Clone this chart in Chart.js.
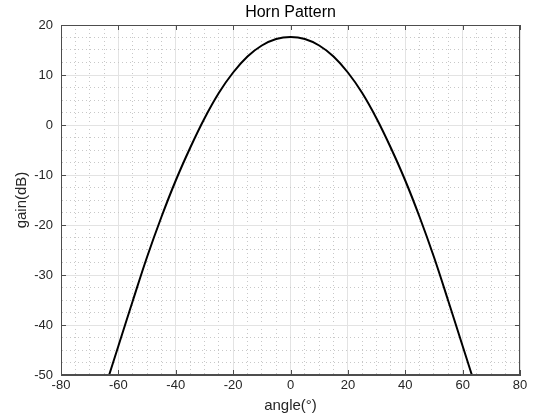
<!DOCTYPE html>
<html>
<head>
<meta charset="utf-8">
<script src="https://cdn.jsdelivr.net/npm/chart.js@4/dist/chart.umd.min.js"></script>
<style>
	html, body { margin: 0; padding: 0; background: #fff; }
	#wrap { width: 537px; height: 419px; }
</style>
</head>
<body>
<div id="wrap"><canvas id="horn"></canvas></div>
<script>
// angle (deg) and gain (dB)
var angles = [-65, -60, -55, -50, -45, -40, -35, -30, -25, -20, -15, -10, -5, 0, 5, 10, 15, 20, 25, 30, 35, 40, 45, 50, 55, 60, 65];
var gains = [-53.2, -44.2, -35.2, -26.4, -18.4, -11.1, -4.6, 1.3, 6.4, 10.5, 13.7, 15.9, 17.2, 17.6, 17.2, 15.9, 13.7, 10.5, 6.4, 1.3, -4.6, -11.1, -18.4, -26.4, -35.2, -44.2, -53.2];
var xMajor = 20;
var yMajor = 10;
var chartTitle = 'Horn Pattern';

var font = 'Liberation Sans, Arial, Helvetica, sans-serif';

var points = angles.map(function (a, i) {
	return { x: a, y: gains[i] };
});

function isMajor(v, step) {
	return Math.abs(v / step - Math.round(v / step)) < 1e-6;
}

// box round the axes, inner major ticks and a title centred on the plot
var boxPlugin = {
	id: 'box',
	afterDraw: function (chart) {
		var a = chart.chartArea;
		var ctx = chart.ctx;
		var xs = chart.scales.x;
		var ys = chart.scales.y;
		ctx.save();
		ctx.strokeStyle = '#4d4d4d';
		ctx.lineWidth = 1;
		ctx.strokeRect(a.left + 0.5, a.top + 0.5, a.right - a.left - 1, a.bottom - a.top - 1);
		ctx.beginPath();
		xs.ticks.forEach(function (t) {
			if (!isMajor(t.value, xMajor)) return;
			var px = Math.round(xs.getPixelForValue(t.value)) + 0.5;
			ctx.moveTo(px, a.bottom);
			ctx.lineTo(px, a.bottom - 5);
			ctx.moveTo(px, a.top);
			ctx.lineTo(px, a.top + 5);
		});
		ys.ticks.forEach(function (t) {
			if (!isMajor(t.value, yMajor)) return;
			var py = Math.round(ys.getPixelForValue(t.value)) + 0.5;
			ctx.moveTo(a.left, py);
			ctx.lineTo(a.left + 5, py);
			ctx.moveTo(a.right, py);
			ctx.lineTo(a.right - 5, py);
		});
		ctx.stroke();
		ctx.fillStyle = '#000';
		ctx.font = '16px ' + font;
		ctx.textAlign = 'center';
		ctx.textBaseline = 'middle';
		ctx.fillText(chartTitle, (a.left + a.right) / 2, 13);
		ctx.restore();
	}
};

new Chart(document.getElementById('horn'), {
	type: 'scatter',
	data: {
		datasets: [{
			data: points,
			showLine: true,
			borderColor: '#000',
			borderWidth: 2,
			pointRadius: 0,
			tension: 0.4,
			fill: false
		}]
	},
	options: {
		responsive: true,
		maintainAspectRatio: false,
		animation: false,
		layout: { padding: { left: 0, right: 17, top: 25, bottom: 0 } },
		plugins: {
			legend: { display: false },
			tooltip: { enabled: false },
			title: { display: false }
		},
		scales: {
			x: {
				type: 'linear',
				min: -80,
				max: 80,
				afterFit: function (s) { s.height = 44; },
				ticks: {
					stepSize: 5,
					autoSkip: false,
					maxRotation: 0,
					color: '#262626',
					font: { family: font, size: 13 },
					padding: 3,
					callback: function (v) { return isMajor(v, xMajor) ? v : ''; }
				},
				grid: {
					drawTicks: false,
					color: function (c) { return isMajor(c.tick.value, xMajor) ? '#e3e3e3' : '#c8c8c8'; },
					lineWidth: 1
				},
				border: {
					color: '#4d4d4d',
					dash: function (c) { return c.tick && !isMajor(c.tick.value, xMajor) ? [1, 3] : []; }
				},
				title: {
					display: true,
					text: 'angle(°)',
					color: '#262626',
					font: { family: font, size: 15 },
					padding: { top: 0, bottom: 4 }
				}
			},
			y: {
				type: 'linear',
				min: -50,
				max: 20,
				afterFit: function (s) { s.width = 61; },
				ticks: {
					stepSize: 2.5,
					autoSkip: false,
					color: '#262626',
					font: { family: font, size: 13 },
					padding: 8,
					callback: function (v) { return isMajor(v, yMajor) ? v : ''; }
				},
				grid: {
					drawTicks: false,
					color: function (c) { return isMajor(c.tick.value, yMajor) ? '#e3e3e3' : '#c8c8c8'; },
					lineWidth: 1
				},
				border: {
					color: '#4d4d4d',
					dash: function (c) { return c.tick && !isMajor(c.tick.value, yMajor) ? [1, 3] : []; }
				},
				title: {
					display: true,
					text: 'gain(dB)',
					color: '#262626',
					font: { family: font, size: 15 },
					padding: { top: 13, bottom: 0 }
				}
			}
		}
	},
	plugins: [boxPlugin]
});
</script>
</body>
</html>
